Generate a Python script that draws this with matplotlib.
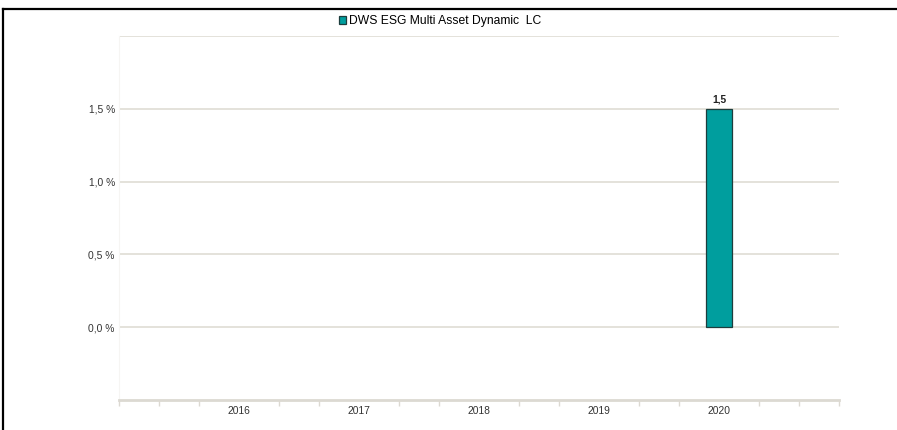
import matplotlib
matplotlib.use("Agg")
import matplotlib.pyplot as plt
from matplotlib.lines import Line2D

plt.rcParams['font.family'] = ['Liberation Sans', 'DejaVu Sans']

years = [2016, 2017, 2018, 2019, 2020]
values = [None, None, None, None, 1.5]
series_name = "DWS ESG Multi Asset Dynamic  LC"
y_ticks = [0.0, 0.5, 1.0, 1.5]

bar_color = "#009e9e"
grid_color = "#e2dfd8"
text_color = "#333333"

fig = plt.figure(figsize=(8.97, 4.30), dpi=100)
W, H = 897, 430
ax = fig.add_axes([119 / W, 1 - 400 / H, 720 / W, 364 / H])

# bars (only years with data)
for yr, v in zip(years, values):
    if v is None:
        continue
    ax.bar(yr, v, width=0.225, color=bar_color, edgecolor="#1d3d3d", linewidth=0.9, zorder=3)
    ax.text(yr, v + 0.03, f"{v:.1f}".replace(".", ","), ha="center", va="bottom",
            fontsize=7.4, color="#222222", fontweight="bold")

ax.set_xlim(years[0] - 1, years[-1] + 1)
ax.set_ylim(-0.5, 2.0)

# horizontal grid
for yv in y_ticks + [2.0]:
    ax.axhline(yv, color=grid_color, linewidth=1.3, zorder=1)

ax.set_yticks(y_ticks)
ax.set_yticklabels([f"{t:.1f} %".replace(".", ",") for t in y_ticks])
ax.tick_params(axis="y", length=0, pad=3, labelsize=7.4, labelcolor=text_color)

ax.set_xticks(years)
ax.set_xticklabels([str(y) for y in years])
minor = [years[0] - 1 + k / 3 for k in range(19)]
minor = [m for m in minor if min(abs(m - y) for y in years) > 0.01]
ax.set_xticks(minor, minor=True)
ax.tick_params(axis="x", which="major", length=0, pad=4, labelsize=7.4, labelcolor=text_color)
ax.tick_params(axis="x", which="minor", length=4, width=1, color="#dcd9d2", direction="out")

for s in ["top", "right"]:
    ax.spines[s].set_visible(False)
ax.spines["left"].set_color("#f6f5f3")
ax.spines["left"].set_linewidth(0.8)
ax.spines["bottom"].set_color("#dcd9d2")
ax.spines["bottom"].set_linewidth(2)

# legend
ax.legend([plt.Rectangle((0, 0), 1, 1, facecolor=bar_color, edgecolor="#1d3d3d", linewidth=0.9)],
          [series_name], loc="center", bbox_to_anchor=(440 / W, 1 - 21 / H),
          bbox_transform=fig.transFigure, frameon=False, fontsize=8.7,
          handlelength=0.6, handleheight=0.6, handletextpad=0.2, borderpad=0)

# outer frame (top and left)
fig.add_artist(Line2D([3 / W, 1], [1 - 9 / H, 1 - 9 / H], color="black", linewidth=1.6,
                      transform=fig.transFigure))
fig.add_artist(Line2D([3 / W, 3 / W], [0, 1 - 9 / H], color="black", linewidth=1.6,
                      transform=fig.transFigure))

fig.savefig("out.png", dpi=100)
